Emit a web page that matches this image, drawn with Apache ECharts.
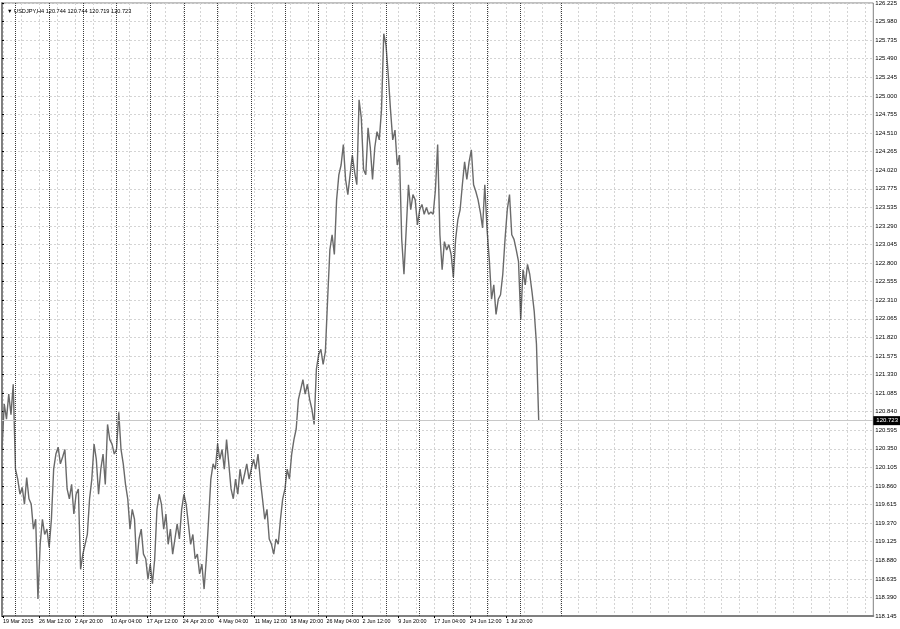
<!DOCTYPE html>
<html><head><meta charset="utf-8">
<script src="https://cdn.jsdelivr.net/npm/echarts@6/dist/echarts.min.js"></script>
<style>html,body{margin:0;padding:0;background:#fff}#c{width:900px;height:629px}</style>
</head><body><div id="c"></div>
<script>
// ---- data ----
const symbolName = 'USDJPY,H4';
const lastBarOHLC = [120.744, 120.744, 120.719, 120.723];
const barStep = 2; // one close every 2 H4 bars, first bar = 19 Mar 2015 00:00
const closes = [
120.34,120.94,120.74,121.07,120.80,121.20,120.08,119.95,119.75,119.84,
119.62,119.97,119.69,119.62,119.29,119.42,118.37,119.09,119.42,119.22,
119.29,119.05,119.42,120.08,120.28,120.37,120.15,120.24,120.34,119.82,
119.69,119.88,119.49,119.75,119.82,118.76,118.96,119.09,119.22,119.69,
119.95,120.41,120.21,119.75,120.08,120.28,119.88,120.67,120.47,120.41,
120.28,120.34,120.83,120.34,120.15,119.88,119.69,119.29,119.55,119.42,
118.83,119.16,119.29,118.96,118.90,118.63,118.83,118.57,118.90,119.55,
119.75,119.62,119.29,119.49,119.09,119.29,118.96,119.16,119.36,119.16,
119.55,119.75,119.62,119.36,119.09,119.22,118.90,118.96,118.70,118.83,
118.50,118.90,119.42,119.95,120.15,120.08,120.41,120.21,120.34,120.08,
120.47,120.15,119.82,119.69,119.95,119.75,120.08,119.88,120.01,120.15,
119.95,120.08,120.21,120.08,120.28,119.95,119.69,119.42,119.55,119.16,
119.09,118.96,119.16,119.09,119.42,119.69,119.82,120.08,119.95,120.28,
120.47,120.61,121.00,121.13,121.26,121.07,121.20,121.00,120.87,120.67,
121.40,121.59,121.66,121.46,121.63,122.32,122.97,123.17,122.91,123.63,
123.96,124.09,124.36,123.90,123.70,123.96,124.22,124.00,123.83,124.95,
124.71,124.03,123.96,124.58,124.32,123.90,124.32,124.53,124.42,124.82,
125.82,125.67,125.28,124.82,124.42,124.55,124.09,124.22,123.11,122.65,
123.24,123.83,123.50,123.70,123.63,123.30,123.50,123.57,123.44,123.53,
123.44,123.47,123.44,123.76,124.36,123.17,122.71,123.08,122.97,123.04,
122.91,122.61,123.11,123.37,123.50,123.83,124.13,123.90,124.13,124.29,
123.83,123.74,123.63,123.47,123.26,123.83,123.24,122.84,122.32,122.51,
122.12,122.32,122.38,122.65,123.11,123.50,123.70,123.17,123.11,122.97,
122.82,122.05,122.71,122.51,122.78,122.65,122.42,122.16,121.73,120.723
];
const totalSlots = 776; // bar slots across the plot, incl. empty future area
const timeLabels = ['19 Mar 2015','26 Mar 12:00','2 Apr 20:00','10 Apr 04:00','17 Apr 12:00','24 Apr 20:00','4 May 04:00','11 May 12:00','18 May 20:00','26 May 04:00','2 Jun 12:00','9 Jun 20:00','17 Jun 04:00','24 Jun 12:00','1 Jul 20:00'];
const labelFirstBar = 1, labelEvery = 32, gridEvery = 16;
const separatorBars = [12,42,72,102,132,162,192,222,252,282,312,342,372,402,432,462,498];
const priceMin = 118.145, priceMax = 126.225;
const priceLabels = ['118.145','118.390','118.635','118.880','119.125','119.370','119.615','119.860','120.105','120.350','120.595','120.840','121.085','121.330','121.575','121.820','122.065','122.310','122.555','122.800','123.045','123.290','123.535','123.775','124.020','124.265','124.510','124.755','125.000','125.245','125.490','125.735','125.980','126.225'];

// ---- chart ----
const FONT = '"Liberation Sans", Arial, sans-serif';
const slots = [];
for (let i = 0; i <= totalSlots; i++) {
  const j = (i - labelFirstBar) / labelEvery;
  slots.push(Number.isInteger(j) && j >= 0 && j < timeLabels.length ? timeLabels[j] : '');
}
const data = closes.map((v, k) => [k * barStep, v]);
const lastClose = closes[closes.length - 1];
const yInterval = (priceMax - priceMin) / (priceLabels.length - 1);

const chart = echarts.init(document.getElementById('c'), null, {renderer: 'canvas'});
chart.setOption({
  animation: false,
  backgroundColor: '#fff',
  title: {
    text: '▼ ' + symbolName + ' ' + lastBarOHLC.map(v => v.toFixed(3)).join(' '),
    left: 2, top: 3,
    textStyle: {fontFamily: FONT, fontSize: 5.6, fontWeight: 'normal', color: '#000'}
  },
  grid: {left: 2, right: 25, top: 2, bottom: 13, show: true, borderColor: '#808080', borderWidth: 1},
  xAxis: [
    {type: 'value', min: 0, max: totalSlots, show: false},
    {
      type: 'category', data: slots, boundaryGap: false, position: 'bottom',
      axisLine: {show: true, lineStyle: {color: '#808080', width: 2}},
      axisTick: {show: true, length: 2, interval: i => slots[i] !== '', lineStyle: {color: '#000'}},
      axisLabel: {interval: i => slots[i] !== '', align: 'left', margin: 3, fontSize: 5.4, fontFamily: FONT, color: '#000'},
      splitLine: {show: true, interval: i => (i - labelFirstBar) % gridEvery === 0, lineStyle: {color: '#d4d4d4', type: [2, 2], width: 1}}
    }
  ],
  yAxis: {
    type: 'value', position: 'right', min: priceMin, max: priceMax, interval: yInterval,
    axisLine: {show: true, lineStyle: {color: '#808080', width: 2}},
    axisTick: {show: true, length: 2, lineStyle: {color: '#000'}},
    axisLabel: {margin: 2, fontSize: 6, fontFamily: FONT, color: '#000',
      formatter: v => { const i = Math.round((v - priceMin) / yInterval); return priceLabels[i] || ''; }},
    splitLine: {show: true, lineStyle: {color: '#d4d4d4', type: [2, 2], width: 1}}
  },
  series: [{
    type: 'line', xAxisIndex: 0, data: data, symbol: 'none', showSymbol: false,
    lineStyle: {color: '#6a6a6a', width: 1.4},
    markLine: {
      symbol: 'none', silent: true, animation: false,
      label: {show: false},
      lineStyle: {color: '#3c3c3c', type: [1, 1], width: 1},
      data: separatorBars.map(b => ({xAxis: b})).concat([{
        yAxis: lastClose,
        lineStyle: {color: '#c8c8c8', type: 'solid', width: 1},
        label: {show: true, position: 'end', distance: 0, formatter: lastClose.toFixed(3),
          backgroundColor: '#000', color: '#fff', fontSize: 6, fontFamily: FONT, padding: [2, 3, 1, 3]}
      }])
    }
  }]
});
</script></body></html>
